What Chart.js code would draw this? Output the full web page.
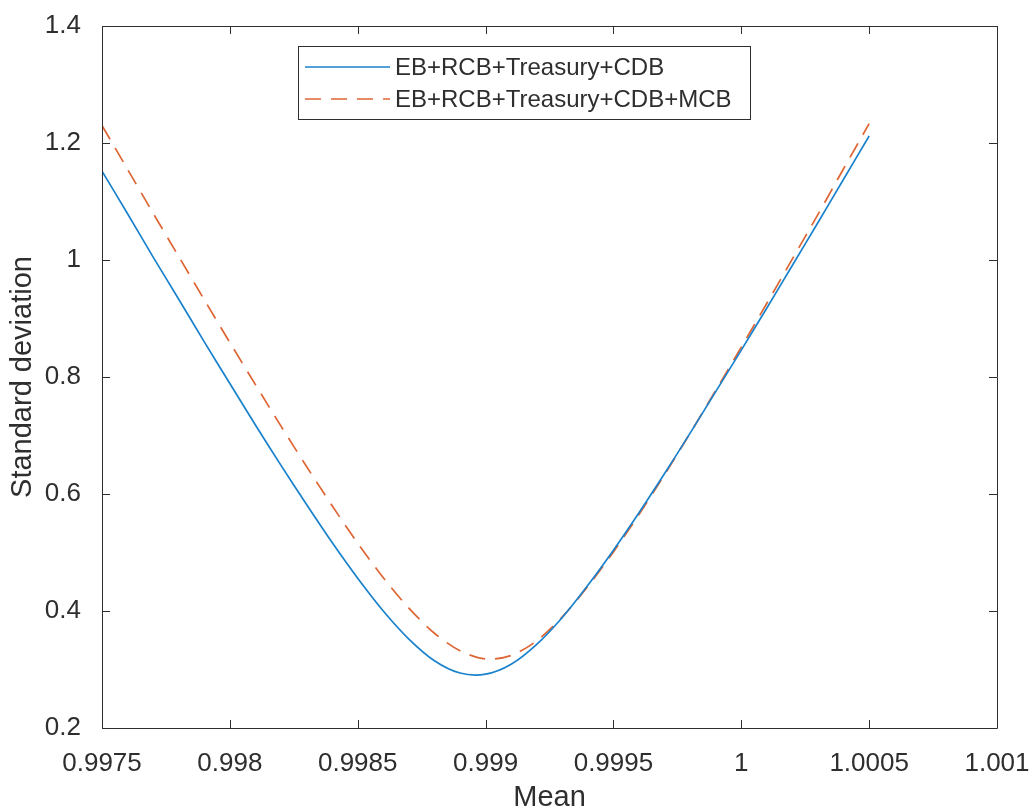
<!DOCTYPE html>
<html>
<head>
<meta charset="utf-8">
<script src="https://cdn.jsdelivr.net/npm/chart.js@4"></script>
<style>
  body { margin: 0; background: #fff; }
  #c { display: block; }
</style>
</head>
<body>
<canvas id="c" width="1031" height="811"></canvas>
<script>
// portfolio frontier: mean vs standard deviation
const meanVals = [0.9975, 0.9976, 0.9977, 0.9978, 0.9979, 0.998, 0.9981, 0.9982, 0.9983, 0.9984,
  0.9985, 0.9986, 0.9987, 0.9988, 0.9989, 0.999, 0.9991, 0.9992, 0.9993, 0.9994,
  0.9995, 0.9996, 0.9997, 0.9998, 0.9999, 1.0, 1.0001, 1.0002, 1.0003, 1.0004, 1.0005];
const sdBase = [1.152, 1.079, 1.005, 0.933, 0.860, 0.789, 0.718, 0.649, 0.582, 0.517,
  0.456, 0.400, 0.352, 0.315, 0.294, 0.292, 0.309, 0.343, 0.389, 0.444,
  0.504, 0.568, 0.635, 0.704, 0.775, 0.846, 0.918, 0.991, 1.064, 1.138, 1.212];
const sdMCB = [1.230, 1.155, 1.080, 1.006, 0.932, 0.859, 0.787, 0.716, 0.647, 0.580,
  0.516, 0.457, 0.405, 0.362, 0.332, 0.318, 0.324, 0.349, 0.390, 0.442,
  0.501, 0.565, 0.633, 0.704, 0.777, 0.851, 0.926, 1.002, 1.078, 1.156, 1.233];

const xTicks = [0.9975, 0.998, 0.9985, 0.999, 0.9995, 1, 1.0005, 1.001];
const xTickLabels = ['0.9975', '0.998', '0.9985', '0.999', '0.9995', '1', '1.0005', '1.001'];
const yTicks = [0.2, 0.4, 0.6, 0.8, 1, 1.2, 1.4];
const yTickLabels = ['0.2', '0.4', '0.6', '0.8', '1', '1.2', '1.4'];
const seriesNames = ['EB+RCB+Treasury+CDB', 'EB+RCB+Treasury+CDB+MCB'];

const AXIS = '#2e2e2e';
const FONT = "'Liberation Sans', Arial, sans-serif";

function pts(ys) {
  return meanVals.map((m, i) => ({x: m, y: ys[i]}));
}

// box round the plot with inward ticks on all four sides (matlab style)
const frame = {
  id: 'frame',
  afterDatasetsDraw(chart) {
    const {ctx, chartArea: a, scales} = chart;
    ctx.save();
    ctx.strokeStyle = AXIS;
    ctx.lineWidth = 1;
    ctx.beginPath();
    ctx.rect(a.left + 0.5, a.top + 0.5, a.right - a.left, a.bottom - a.top);
    const tl = 8;
    xTicks.forEach(v => {
      const px = Math.round(scales.x.getPixelForValue(v)) + 0.5;
      ctx.moveTo(px, a.bottom); ctx.lineTo(px, a.bottom - tl);
      ctx.moveTo(px, a.top); ctx.lineTo(px, a.top + tl);
    });
    yTicks.forEach(v => {
      const py = Math.round(scales.y.getPixelForValue(v)) + 0.5;
      ctx.moveTo(a.left, py); ctx.lineTo(a.left + tl, py);
      ctx.moveTo(a.right, py); ctx.lineTo(a.right - tl, py);
    });
    ctx.stroke();
    ctx.restore();
  }
};

const legendBox = {
  id: 'legendBox',
  afterDraw(chart) {
    const ctx = chart.ctx;
    const x0 = 298, y0 = 46, w = 452, h = 73;
    ctx.save();
    ctx.fillStyle = '#fff';
    ctx.fillRect(x0, y0, w, h);
    ctx.strokeStyle = AXIS;
    ctx.lineWidth = 1;
    ctx.strokeRect(x0 + 0.5, y0 + 0.5, w, h);
    const rows = [67, 99];
    chart.data.datasets.forEach((ds, i) => {
      ctx.strokeStyle = ds.borderColor;
      ctx.lineWidth = ds.borderWidth;
      ctx.setLineDash(ds.borderDash || []);
      ctx.beginPath();
      ctx.moveTo(305, rows[i]);
      ctx.lineTo(390, rows[i]);
      ctx.stroke();
      ctx.setLineDash([]);
      ctx.fillStyle = AXIS;
      ctx.font = '24px ' + FONT;
      ctx.textBaseline = 'middle';
      ctx.fillText(ds.label, 395, rows[i] + 1);
    });
    ctx.restore();
  }
};

const ctx = document.getElementById('c');
new Chart(ctx, {
  type: 'line',
  data: {
    datasets: [
      {
        label: seriesNames[0],
        data: pts(sdBase),
        borderColor: '#1a82cc',
        borderWidth: 1.7,
        pointRadius: 0,
        fill: false,
        tension: 0.3
      }, {
        label: seriesNames[1],
        data: pts(sdMCB),
        borderColor: '#de6534',
        borderWidth: 1.7,
        borderDash: [16, 10],
        pointRadius: 0,
        fill: false,
        tension: 0.3
      }
    ]
  },
  options: {
    responsive: false,
    animation: false,
    devicePixelRatio: 1,
    layout: { padding: { left: 0, right: 34, top: 26, bottom: 0 } },
    scales: {
      x: {
        type: 'linear',
        min: 0.9975,
        max: 1.001,
        afterBuildTicks: s => { s.ticks = xTicks.map(v => ({value: v})); },
        afterFit: s => { s.height = 83; s.paddingLeft = 0; s.paddingRight = 0; },
        grid: { display: false },
        border: { display: false },
        ticks: {
          color: AXIS,
          font: { family: FONT, size: 26 },
          padding: 12,
          maxRotation: 0,
          autoSkip: false,
          callback: (v, i) => xTickLabels[i]
        },
        title: {
          display: true,
          text: 'Mean',
          color: AXIS,
          font: { family: FONT, size: 29, lineHeight: 0.9 },
          padding: { top: 0, bottom: 0 }
        }
      },
      y: {
        min: 0.2,
        max: 1.4,
        afterBuildTicks: s => { s.ticks = yTicks.map(v => ({value: v})); },
        afterFit: s => { s.width = 102; s.paddingTop = 0; s.paddingBottom = 0; },
        grid: { display: false },
        border: { display: false },
        ticks: {
          color: AXIS,
          font: { family: FONT, size: 26 },
          padding: 13,
          autoSkip: false,
          callback: (v, i) => yTickLabels[i]
        },
        title: {
          display: true,
          text: 'Standard deviation',
          color: AXIS,
          font: { family: FONT, size: 29, lineHeight: 0.9 },
          padding: { top: 10, bottom: 0 }
        }
      }
    },
    plugins: {
      legend: { display: false },
      tooltip: { enabled: false }
    }
  },
  plugins: [frame, legendBox]
});
</script>
</body>
</html>
